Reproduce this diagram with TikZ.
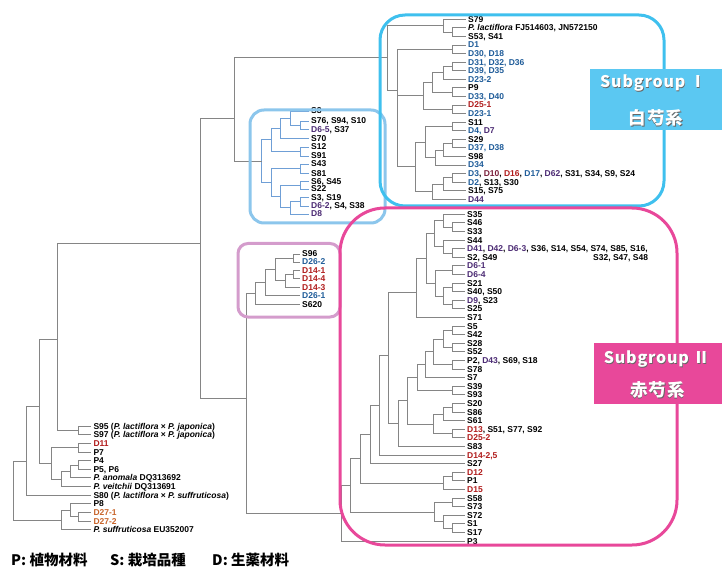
\documentclass[tikz,border=0pt]{standalone}
\usepackage{fontspec}
\setmainfont{Liberation Sans}
\newfontfamily\cjk{Noto Sans CJK JP}
\newfontfamily\cjkls[LetterSpace=5]{Noto Sans CJK JP}
\newfontfamily\cjkcj[LetterSpace=6]{Noto Sans CJK JP}
\definecolor{dblue}{HTML}{1F5C99}
\definecolor{dred}{HTML}{B01C1C}
\definecolor{dpurp}{HTML}{4B2A73}
\definecolor{dmar}{HTML}{7A1F3A}
\definecolor{dorg}{HTML}{C8642A}
\definecolor{brgray}{HTML}{858585}
\definecolor{brblue}{HTML}{6F9FD6}
\definecolor{cyanbox}{HTML}{3FC0EE}
\definecolor{lbluebox}{HTML}{8CC6EC}
\definecolor{purpbox}{HTML}{D49CCC}
\definecolor{pinkbox}{HTML}{E8489A}
\definecolor{sgcyan}{HTML}{5BC8F2}
\definecolor{sgpink}{HTML}{E8489A}
\newcommand\cDb[1]{\textcolor{dblue}{#1}}
\newcommand\cDr[1]{\textcolor{dred}{#1}}
\newcommand\cDp[1]{\textcolor{dpurp}{#1}}
\newcommand\cDm[1]{\textcolor{dmar}{#1}}
\newcommand\cDo[1]{\textcolor{dorg}{#1}}
\newcommand\br[2]{\draw[brl] (#1) |- (#2);}
\newcommand\bl[2]{\draw[brl] (#1) |- ([xshift=-2pt]#2.west);}
\newcommand\bb[2]{\draw[brb] (#1) |- (#2);}
\newcommand\bbl[2]{\draw[brb] (#1) |- ([xshift=-2pt]#2.west);}
\tikzset{
  lab/.style={anchor=west, inner sep=0pt, font=\fontsize{8.5}{9}\selectfont\bfseries, text height=6pt, text depth=0pt},
  brl/.style={draw=brgray, line width=0.9pt},
  brb/.style={draw=brblue, line width=0.9pt},
  grpbox/.style={line width=3pt},
  sgt/.style={inner sep=0pt, text=white},
  sgs/.style={inner sep=0pt, text=black!60},
  sgfa/.style={font=\cjkls\bfseries\fontsize{16}{18}\selectfont},
  sgfb/.style={font=\cjkcj\bfseries\fontsize{17.5}{19}\selectfont},
  leg/.style={anchor=west, inner sep=0pt, font=\cjk\bfseries\fontsize{14.5}{16}\selectfont}
}
\begin{document}
\begin{tikzpicture}[x=1pt,y=-1pt]
\path[use as bounding box] (0,0) rectangle (725,569);

% ---------------- top cluster (Subgroup I) ----------------
\node[lab] (t1) at (468,19.3) {S79};
\node[lab] (t2) at (468,27.9) {\textit{P. lactiflora} FJ514603, JN572150};
\node[lab] (t3) at (468,36.4) {S53, S41};
\node[lab] (t4) at (468,45.0) {\cDb{D1}};
\node[lab] (t5) at (468,53.6) {\cDb{D30, D18}};
\node[lab] (t6) at (468,62.2) {\cDb{D31, D32, D36}};
\node[lab] (t7) at (468,70.7) {\cDb{D39, D35}};
\node[lab] (t8) at (468,79.3) {\cDb{D23-2}};
\node[lab] (t9) at (468,87.9) {P9};
\node[lab] (t10) at (468,96.4) {\cDb{D33, D40}};
\node[lab] (t11) at (468,105.0) {\cDr{D25-1}};
\node[lab] (t12) at (468,113.6) {\cDb{D23-1}};
\node[lab] (t13) at (468,122.1) {S11};
\node[lab] (t14) at (468,130.7) {\cDb{D4,} \cDp{D7}};
\node[lab] (t15) at (468,139.3) {S29};
\node[lab] (t16) at (468,147.9) {\cDb{D37, D38}};
\node[lab] (t17) at (468,156.4) {S98};
\node[lab] (t18) at (468,165.0) {\cDb{D34}};
\node[lab] (t19) at (468,173.6) {\cDb{D3}, \cDm{D10}, \cDr{D16}, \cDb{D17}, \cDp{D62}, S31, S34, S9, S24};
\node[lab] (t20) at (468,182.1) {\cDb{D2}, S13, S30};
\node[lab] (t21) at (468,190.7) {S15, S75};
\node[lab] (t22) at (468,199.3) {\cDp{D44}};

\coordinate (a1) at (452,32.2);
\coordinate (a2) at (443,25.7);
\coordinate (tb1) at (452,49.3);
\coordinate (c1) at (452,66.5);
\coordinate (c2) at (443,72.9);
\coordinate (d1) at (452,92.2);
\coordinate (c3) at (432,82.5);
\coordinate (e1) at (452,109.3);
\coordinate (c4) at (423,95.9);
\coordinate (f1) at (452,126.4);
\coordinate (f2) at (452,143.6);
\coordinate (f3) at (443,150);
\coordinate (f4) at (435,157.5);
\coordinate (f5) at (425,142);
\coordinate (g1) at (452,177.9);
\coordinate (g2) at (443,184.3);
\coordinate (g3) at (432,191.8);
\coordinate (hh) at (415,166.9);
\coordinate (ti) at (397,90);
\coordinate (top) at (387,57.9);

\bl{a1}{t2} \bl{a1}{t3}
\bl{a2}{t1} \br{a2}{a1}
\bl{tb1}{t4} \bl{tb1}{t5}
\bl{c1}{t6} \bl{c1}{t7}
\br{c2}{c1} \bl{c2}{t8}
\bl{d1}{t9} \bl{d1}{t10}
\br{c3}{c2} \br{c3}{d1}
\bl{e1}{t11} \bl{e1}{t12}
\br{c4}{c3} \br{c4}{e1}
\bl{f1}{t13} \bl{f1}{t14}
\bl{f2}{t15} \bl{f2}{t16}
\br{f3}{f2} \bl{f3}{t17}
\br{f4}{f3} \bl{f4}{t18}
\br{f5}{f1} \br{f5}{f4}
\bl{g1}{t19} \bl{g1}{t20}
\br{g2}{g1} \bl{g2}{t21}
\br{g3}{g2} \bl{g3}{t22}
\br{hh}{f5} \br{hh}{g3}
\br{ti}{tb1} \br{ti}{c4} \br{ti}{hh}
\br{top}{a2} \br{top}{ti}

% ---------------- middle blue cluster ----------------
\node[lab] (b1) at (311,111) {S8};
\node[lab] (b2) at (311,121) {S76, S94, S10};
\node[lab] (b3) at (311,129.3) {\cDp{D6-5}, S37};
\node[lab] (b4) at (311,138.3) {S70};
\node[lab] (b5) at (311,147) {S12};
\node[lab] (b6) at (311,156) {S91};
\node[lab] (b7) at (311,164) {S43};
\node[lab] (b8) at (311,173.3) {S81};
\node[lab] (b9) at (311,181.7) {S6, S45};
\node[lab] (b10) at (311,189) {S22};
\node[lab] (b11) at (311,197.3) {S3, S19};
\node[lab] (b12) at (311,206) {\cDp{D6-2}, S4, S38};
\node[lab] (b13) at (311,214) {\cDp{D8}};

\coordinate (ba) at (300,125.2);
\coordinate (bbb) at (290,118.1);
\coordinate (bc) at (280,128.2);
\coordinate (bd) at (300,151.5);
\coordinate (be) at (271.7,139.9);
\coordinate (bf) at (300,168.7);
\coordinate (bg) at (300,185.4);
\coordinate (bh) at (300,201.7);
\coordinate (bi) at (290,207.8);
\coordinate (bj) at (280,196.6);
\coordinate (bk) at (271.7,182.7);
\coordinate (broot) at (261.7,161.3);

\bbl{ba}{b2} \bbl{ba}{b3}
\bbl{bbb}{b1} \bb{bbb}{ba}
\bb{bc}{bbb} \bbl{bc}{b4}
\bbl{bd}{b5} \bbl{bd}{b6}
\bb{be}{bc} \bb{be}{bd}
\bbl{bf}{b7} \bbl{bf}{b8}
\bbl{bg}{b9} \bbl{bg}{b10}
\bbl{bh}{b11} \bbl{bh}{b12}
\bb{bi}{bh} \bbl{bi}{b13}
\bb{bj}{bg} \bb{bj}{bi}
\bb{bk}{bf} \bb{bk}{bj}
\bb{broot}{be} \bb{broot}{bk}

% ---------------- purple cluster ----------------
\node[lab] (p1) at (302,254) {S96};
\node[lab] (p2) at (302,262) {\cDb{D26-2}};
\node[lab] (p3) at (302,270) {\cDr{D14-1}};
\node[lab] (p4) at (302,278) {\cDr{D14-4}};
\node[lab] (p5) at (302,287) {\cDr{D14-3}};
\node[lab] (p6) at (302,295.5) {\cDb{D26-1}};
\node[lab] (p7) at (302,304) {S620};

\coordinate (pa) at (293,258);
\coordinate (pb) at (293,274);
\coordinate (pc) at (285,280.5);
\coordinate (pd) at (275,269.3);
\coordinate (pe) at (265,282.4);
\coordinate (pf) at (255,293.2);

\bl{pa}{p1} \bl{pa}{p2}
\bl{pb}{p3} \bl{pb}{p4}
\br{pc}{pb} \bl{pc}{p5}
\br{pd}{pa} \br{pd}{pc}
\br{pe}{pd} \bl{pe}{p6}
\br{pf}{pe} \bl{pf}{p7}

% ---------------- pink cluster (Subgroup II) ----------------
\node[lab] (k1) at (467,214.3) {S35};
\node[lab] (k2) at (467,222.9) {S46};
\node[lab] (k3) at (467,231.5) {S33};
\node[lab] (k4) at (467,240.1) {S44};
\node[lab] (k5) at (467,248.7) {\cDp{D41}, \cDp{D42}, \cDp{D6-3}, S36, S14, S54, S74, S85, S16,};
\node[lab] (k5b) at (593,257.3) {S32, S47, S48};
\node[lab] (k6) at (467,257.3) {S2, S49};
\node[lab] (k7) at (467,265.9) {\cDp{D6-1}};
\node[lab] (k8) at (467,274.5) {\cDp{D6-4}};
\node[lab] (k9) at (467,283.1) {S21};
\node[lab] (k10) at (467,291.7) {S40, S50};
\node[lab] (k11) at (467,300.3) {\cDp{D9}, S23};
\node[lab] (k12) at (467,308.9) {S25};
\node[lab] (k13) at (467,317.5) {S71};
\node[lab] (k14) at (467,326.1) {S5};
\node[lab] (k15) at (467,334.7) {S42};
\node[lab] (k16) at (467,343.3) {S28};
\node[lab] (k17) at (467,351.9) {S52};
\node[lab] (k18) at (467,360.5) {P2, \cDp{D43}, S69, S18};
\node[lab] (k19) at (467,369.1) {S78};
\node[lab] (k20) at (467,377.7) {S7};
\node[lab] (k21) at (467,386.3) {S39};
\node[lab] (k22) at (467,394.9) {S93};
\node[lab] (k23) at (467,403.5) {S20};
\node[lab] (k24) at (467,412.1) {S86};
\node[lab] (k25) at (467,420.7) {S61};
\node[lab] (k26) at (467,429.3) {\cDr{D13}, S51, S77, S92};
\node[lab] (k27) at (467,437.9) {\cDr{D25-2}};
\node[lab] (k28) at (467,446.5) {S83};
\node[lab] (k29) at (467,455.1) {\cDr{D14-2,5}};
\node[lab] (k30) at (467,463.7) {S27};
\node[lab] (k31) at (467,472.3) {\cDr{D12}};
\node[lab] (k32) at (467,480.9) {P1};
\node[lab] (k33) at (467,489.5) {\cDr{D15}};
\node[lab] (k34) at (467,498.1) {S58};
\node[lab] (k35) at (467,506.7) {S73};
\node[lab] (k36) at (467,515.3) {S72};
\node[lab] (k37) at (467,523.9) {S1};
\node[lab] (k38) at (467,532.5) {S17};
\node[lab] (k39) at (467,541.1) {P3};

\coordinate (ka) at (452,227.2);
\coordinate (kb) at (443,220.8);
\coordinate (kc) at (452,253);
\coordinate (kd) at (443,246.6);
\coordinate (ke) at (434,233.7);
\coordinate (kf) at (452,270.2);
\coordinate (kg) at (452,287.4);
\coordinate (kh) at (452,304.6);
\coordinate (ki) at (443,296);
\coordinate (kj) at (435,283.1);
\coordinate (kk) at (426,258.4);
\coordinate (kl) at (416,292);
\coordinate (km) at (452,330.4);
\coordinate (kn) at (452,347.6);
\coordinate (ko) at (443,339);
\coordinate (kp) at (452,364.8);
\coordinate (kq) at (433,351.9);
\coordinate (kr) at (425,364.8);
\coordinate (ks) at (452,390.6);
\coordinate (kt) at (417,377.7);
\coordinate (ku) at (452,407.8);
\coordinate (kv) at (443,414.3);
\coordinate (kw) at (452,433.6);
\coordinate (kx) at (433,424);
\coordinate (ky) at (407,400.8);
\coordinate (kz) at (398,423.7);
\coordinate (la) at (388,355.8);
\coordinate (lb) at (379,405.5);
\coordinate (lc) at (370,434.6);
\coordinate (ld) at (452,476.6);
\coordinate (le) at (443,483);
\coordinate (lf) at (360.7,458.8);
\coordinate (lg) at (452,502.4);
\coordinate (lh) at (452,528.2);
\coordinate (li) at (443,521.7);
\coordinate (lj) at (434,512);
\coordinate (lk) at (350.7,485.4);
\coordinate (ll) at (341,513.5);

\bl{ka}{k2} \bl{ka}{k3}
\bl{kb}{k1} \br{kb}{ka}
\bl{kc}{k5} \bl{kc}{k6}
\bl{kd}{k4} \br{kd}{kc}
\br{ke}{kb} \br{ke}{kd}
\bl{kf}{k7} \bl{kf}{k8}
\bl{kg}{k9} \bl{kg}{k10}
\bl{kh}{k11} \bl{kh}{k12}
\br{ki}{kg} \br{ki}{kh}
\br{kj}{kf} \br{kj}{ki}
\br{kk}{ke} \br{kk}{kj}
\br{kl}{kk} \bl{kl}{k13}
\bl{km}{k14} \bl{km}{k15}
\bl{kn}{k16} \bl{kn}{k17}
\br{ko}{km} \br{ko}{kn}
\bl{kp}{k18} \bl{kp}{k19}
\br{kq}{ko} \br{kq}{kp}
\br{kr}{kq} \bl{kr}{k20}
\bl{ks}{k21} \bl{ks}{k22}
\br{kt}{kr} \br{kt}{ks}
\bl{ku}{k23} \bl{ku}{k24}
\br{kv}{ku} \bl{kv}{k25}
\bl{kw}{k26} \bl{kw}{k27}
\br{kx}{kv} \br{kx}{kw}
\br{ky}{kt} \br{ky}{kx}
\br{kz}{ky} \bl{kz}{k28}
\br{la}{kl} \br{la}{kz}
\br{lb}{la} \bl{lb}{k29}
\br{lc}{lb} \bl{lc}{k30}
\bl{ld}{k31} \bl{ld}{k32}
\br{le}{ld} \bl{le}{k33}
\br{lf}{lc} \br{lf}{le}
\bl{lg}{k34} \bl{lg}{k35}
\bl{lh}{k37} \bl{lh}{k38}
\bl{li}{k36} \br{li}{lh}
\br{lj}{lg} \br{lj}{li}
\br{lk}{lf} \br{lk}{lj}
\br{ll}{lk} \bl{ll}{k39}

% ---------------- outgroup ----------------
\node[lab] (o1) at (93.3,426) {S95 (\textit{P. lactiflora} × \textit{P. japonica})};
\node[lab] (o2) at (93.3,434.7) {S97 (\textit{P. lactiflora} × \textit{P. japonica})};
\node[lab] (o3) at (93.3,443.3) {\cDr{D11}};
\node[lab] (o4) at (93.3,452) {P7};
\node[lab] (o5) at (93.3,460.6) {P4};
\node[lab] (o6) at (93.3,469.3) {P5, P6};
\node[lab] (o7) at (93.3,477.9) {\textit{P. anomala} DQ313692};
\node[lab] (o8) at (93.3,486.6) {\textit{P. veitchii} DQ313691};
\node[lab] (o9) at (93.3,495.2) {S80 (\textit{P. lactiflora} × \textit{P. suffruticosa})};
\node[lab] (o10) at (93.3,503.9) {P8};
\node[lab] (o11) at (93.3,512.5) {\cDo{D27-1}};
\node[lab] (o12) at (93.3,521.2) {\cDo{D27-2}};
\node[lab] (o13) at (93.3,529.8) {\textit{P. suffruticosa} EU352007};

\coordinate (oa) at (78.3,430.4);
\coordinate (oc) at (78.3,447.7);
\coordinate (od) at (78.3,465);
\coordinate (oe) at (70,471.5);
\coordinate (of) at (61.7,479);
\coordinate (og) at (51.7,463.4);
\coordinate (oj) at (78.3,516.9);
\coordinate (ok) at (70,510.4);
\coordinate (ol) at (61.7,520.1);

% backbone
\coordinate (m1) at (234,118);
\coordinate (m3) at (246.7,398);
\coordinate (m2) at (200,243.3);
\coordinate (ob) at (57.7,339.3);
\coordinate (oh) at (39.3,406);
\coordinate (oi) at (26.7,461.7);
\coordinate (oroot) at (13.3,491);

\br{m1}{top} \br{m1}{broot}
\br{m3}{pf} \br{m3}{ll}
\br{m2}{m1} \br{m2}{m3}
\bl{oa}{o1} \bl{oa}{o2}
\br{ob}{m2} \br{ob}{oa}
\bl{oc}{o3} \bl{oc}{o4}
\bl{od}{o5} \bl{od}{o6}
\br{oe}{od} \bl{oe}{o7}
\br{of}{oe} \bl{of}{o8}
\br{og}{oc} \br{og}{of}
\br{oh}{ob} \br{oh}{og}
\br{oi}{oh} \bl{oi}{o9}
\bl{oj}{o11} \bl{oj}{o12}
\bl{ok}{o10} \br{ok}{oj}
\br{ol}{ok} \bl{ol}{o13}
\br{oroot}{oi} \br{oroot}{ol}

% ---------------- group boxes ----------------
\draw[grpbox, draw=lbluebox, rounded corners=14pt] (250,110) rectangle (385,223);
\draw[grpbox, draw=purpbox, rounded corners=10pt] (238,243.5) rectangle (340,317);
\draw[grpbox, draw=cyanbox, rounded corners=25pt] (380,15) rectangle (664,206);
\draw[grpbox, draw=pinkbox, rounded corners=45pt] (340,208) rectangle (677,545);

% ---------------- subgroup labels ----------------
\node[fill=sgcyan, inner sep=0pt, minimum width=132pt, minimum height=61pt] (sg1) at (656,99.5) {};
\node[sgs, sgfa] at (653.7,84) {Subgroup Ⅰ};
\node[sgt, sgfa] (sg1a) at (653,83.3) {Subgroup Ⅰ};
\node[sgs, sgfb] at (656.7,118.4) {白芍系};
\node[sgt, sgfb] (sg1b) at (656,117.7) {白芍系};

\node[fill=sgpink, inner sep=0pt, minimum width=128pt, minimum height=61pt] (sg2) at (658,373) {};
\node[sgs, sgfa] at (657.4,360) {Subgroup Ⅱ};
\node[sgt, sgfa] (sg2a) at (656.7,359.3) {Subgroup Ⅱ};
\node[sgs, sgfb] at (658.2,390.7) {赤芍系};
\node[sgt, sgfb] (sg2b) at (657.5,390) {赤芍系};

% ---------------- legend ----------------
\node[leg] (lgP) at (11,560) {P: 植物材料};
\node[leg] (lgS) at (110,560) {S: 栽培品種};
\node[leg] (lgD) at (212,560) {D: 生薬材料};
\end{tikzpicture}
\end{document}
